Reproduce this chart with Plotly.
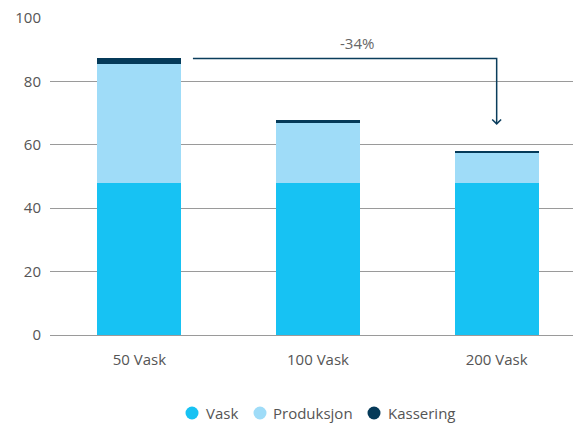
import plotly.graph_objects as go

categories = ["50 Vask", "100 Vask", "200 Vask"]
series_names = ["Vask", "Produksjon", "Kassering"]
vask = [48, 48, 48]
produksjon = [37.5, 19, 9.5]
kassering = [2, 0.9, 0.4]
y_ticks = [0, 20, 40, 60, 80, 100]
change_label = "-34%"

colors = ["#17c2f3", "#9fdcf8", "#053a59"]
c_arrow = "#0b3d5c"
txt = "#555555"

fig = go.Figure()
for name, vals, col in zip(series_names, [vask, produksjon, kassering], colors):
    fig.add_trace(go.Bar(x=categories, y=vals, name=name, marker=dict(color=col, line=dict(width=0)),
                         showlegend=False, hoverinfo="skip"))

totals = [a + b + c for a, b, c in zip(vask, produksjon, kassering)]
y_top = totals[0] - 0.3
x_start = 0.30
x_end = 2.0
y_tip = totals[2] + 8.7

fig.add_shape(type="path", xref="x", yref="y",
              path=f"M {x_start},{y_top} L {x_end},{y_top} L {x_end},{y_tip}",
              line=dict(color=c_arrow, width=1.5))
fig.add_shape(type="path", xref="x", yref="y",
              path=f"M {x_end-0.025},{y_tip+1.4} L {x_end},{y_tip} L {x_end+0.025},{y_tip+1.4}",
              line=dict(color=c_arrow, width=1.5))
fig.add_annotation(x=1.22, y=y_top + 4.8, xref="x", yref="y", text=change_label,
                   showarrow=False, font=dict(size=15, color="#666666"))

# manual legend (circle markers + labels), positions in paper coordinates
L, R, T, B = 42, 3, 9, 98
W, H = 581, 425
pw = W - L - R
ph = H - T - B
def px_x(p):
    return (p - 8 - L) / pw
def px_y(p):
    return (H - B + 8 - p) / ph
legend_circle_px = [192, 260, 374]
legend_text_px = [204, 271, 386]
legend_y_px = 413
for name, col, cx, tx in zip(series_names, colors, legend_circle_px, legend_text_px):
    fig.add_shape(type="circle", xref="paper", yref="paper", xsizemode="pixel", ysizemode="pixel",
                  xanchor=px_x(cx), yanchor=px_y(legend_y_px), x0=-6.5, x1=6.5, y0=-6.5, y1=6.5,
                  fillcolor=col, line=dict(width=0))
    fig.add_annotation(xref="paper", yref="paper", x=px_x(tx), y=px_y(legend_y_px), text=name,
                       xanchor="left", yanchor="middle", showarrow=False,
                       font=dict(size=15, color=txt))

fig.update_layout(
    width=W, height=H,
    margin=dict(l=L, r=R, t=T, b=B, autoexpand=False),
    barmode="stack", bargap=0.53, showlegend=False,
    plot_bgcolor="white", paper_bgcolor="white",
    font=dict(family="Open Sans", size=15, color=txt),
    xaxis=dict(type="category", range=[-0.5, 2.5], showgrid=False, ticks="", ticklabelstandoff=14,
               tickfont=dict(size=15, color=txt), showline=False, automargin=False),
    yaxis=dict(range=[0, 100.3], tickvals=y_ticks, showgrid=True, gridcolor="#9a9a9a", gridwidth=1,
               zeroline=True, zerolinecolor="#9a9a9a", zerolinewidth=1, ticks="", ticklabelstandoff=8,
               ticklabeloverflow="allow", automargin=False, tickfont=dict(size=15, color=txt)),
)

fig.write_html("out.html")
